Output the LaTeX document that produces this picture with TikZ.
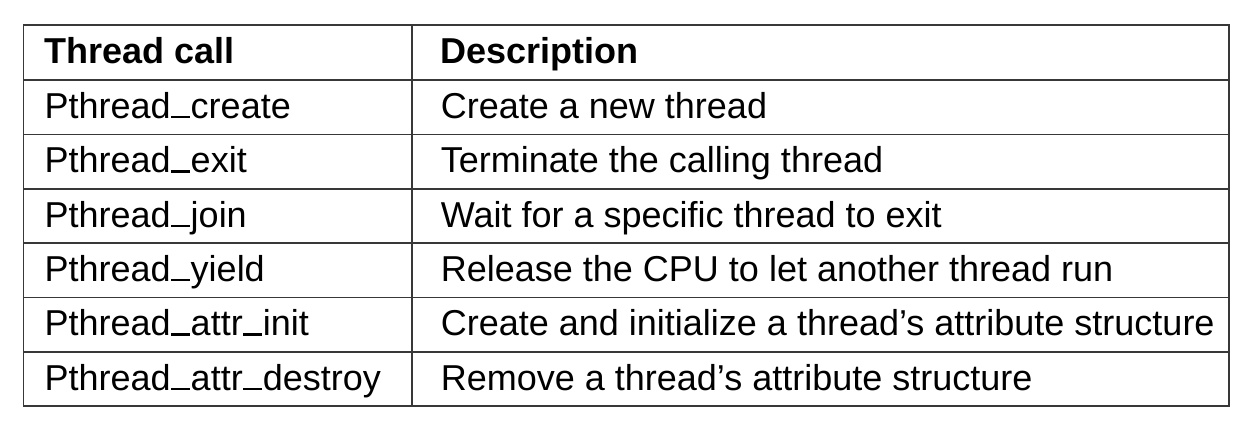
\documentclass[tikz,border=0pt]{standalone}
\usepackage{fontspec}
\setmainfont{Liberation Sans}
\newcommand\usc{\kern0.02em\rule{0.52em}{0.065em}\kern0.02em}
\begin{document}
\begin{tikzpicture}[x=1pt,y=-1pt,
  cell/.style={anchor=base west,inner sep=0pt,font=\fontsize{36}{40}\selectfont},
  head/.style={cell,font=\fontsize{36}{40}\selectfont\bfseries},
  rule/.style={draw=black!78,line width=1.6pt}]
\useasboundingbox (0,0) rectangle (1250,426);
\fill[white] (0,0) rectangle (1250,426);
% grid
\draw[rule] (23.5,25) rectangle (1229,406);
\draw[rule] (412,25) -- (412,406);
\foreach \y in {80,134.5,189,243,297.5,352}
  \draw[rule] (23.5,\y) -- (1229,\y);
% header
\node[head] (h1) at (44.3,63) {Thread call};
\node[head] (h2) at (440.7,63) {Description};
% rows
\node[cell] (c1) at (44.3,118) {Pthread\usc create};
\node[cell] (d1) at (440.7,118) {Create a new thread};
\node[cell] (c2) at (44.3,172.5) {Pthread\usc exit};
\node[cell] (d2) at (440.7,172.5) {Terminate the calling thread};
\node[cell] (c3) at (44.3,227) {Pthread\usc join};
\node[cell] (d3) at (440.7,227) {Wait for a specific thread to exit};
\node[cell] (c4) at (44.3,281) {Pthread\usc yield};
\node[cell] (d4) at (440.7,281) {Release the CPU to let another thread run};
\node[cell] (c5) at (44.3,335.5) {Pthread\usc attr\usc init};
\node[cell] (d5) at (440.7,335.5) {Create and initialize a thread’s attribute structure};
\node[cell] (c6) at (44.3,390) {Pthread\usc attr\usc destroy};
\node[cell] (d6) at (440.7,390) {Remove a thread’s attribute structure};
\end{tikzpicture}
\end{document}
